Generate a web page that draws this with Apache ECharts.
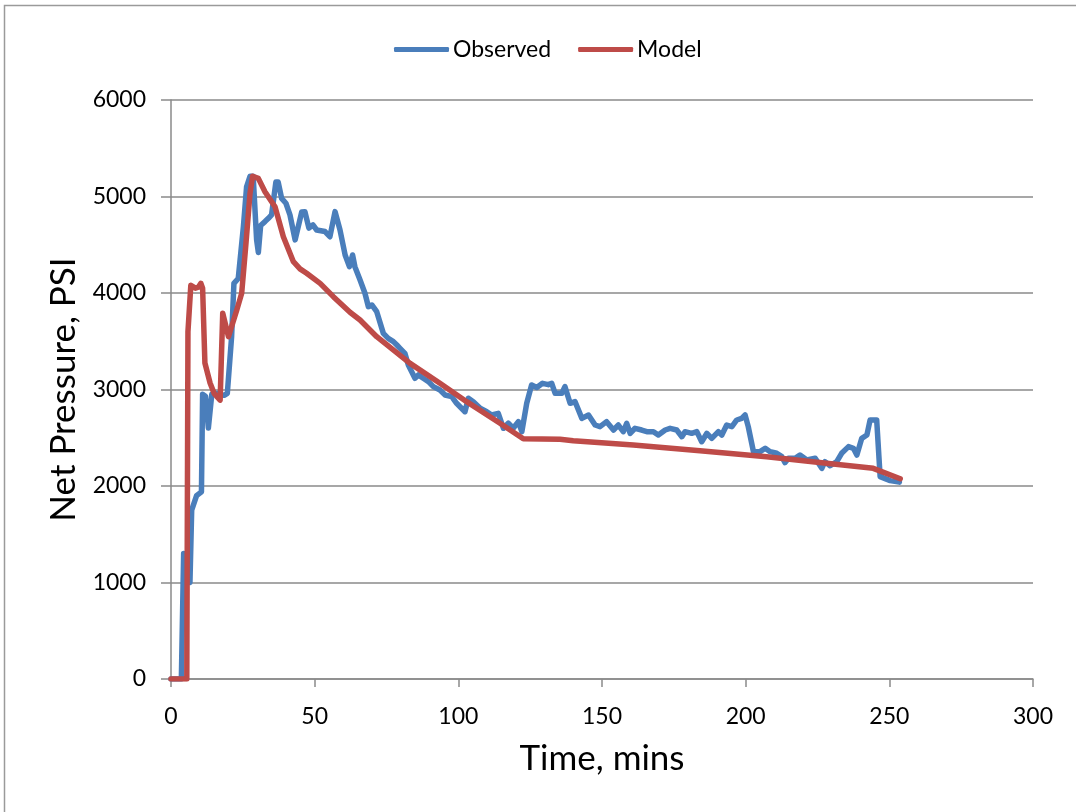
<!DOCTYPE html>
<html>
<head>
<meta charset="utf-8">
<title>Net Pressure vs Time</title>
<script src="https://cdn.jsdelivr.net/npm/echarts@6/dist/echarts.min.js"></script>
<style>
  html, body { margin: 0; padding: 0; background: #fff; }
  #chart { width: 1076px; height: 812px; }
</style>
</head>
<body>
<div id="chart"></div>
<script>
// Observed net pressure (time in minutes, pressure in psi)
const observedTime = [0, 3.6, 4.4, 6.6, 7.2, 8.9, 10.6, 11.0, 12.0, 13.0, 14.2, 16.0, 18.5, 19.6, 21.1, 21.9, 23.4, 25.2, 26.3, 27.5, 28.6, 29.8, 30.4, 31.2, 32.7, 33.9, 35.0, 36.5, 37.3, 38.5, 40.0, 41.4, 43.2, 45.5, 46.6, 48.0, 49.4, 50.7, 53.6, 55.3, 57.1, 58.8, 60.6, 62.1, 63.2, 64.0, 65.8, 67.5, 68.7, 69.9, 71.6, 73.9, 75.6, 77.4, 78.6, 79.7, 81.4, 82.6, 84.9, 86.1, 87.8, 89.6, 91.3, 93.6, 95.4, 97.7, 99.4, 102.3, 103.5, 105.2, 107.6, 109.9, 111.6, 113.9, 115.7, 117.4, 119.1, 120.9, 122.1, 123.8, 125.5, 127.3, 129.3, 131.3, 132.5, 133.7, 136.0, 137.1, 138.9, 140.6, 143.0, 145.3, 147.6, 149.3, 151.6, 154.0, 155.7, 157.4, 158.6, 159.8, 161.5, 163.8, 165.6, 167.9, 169.6, 172.0, 173.7, 176.0, 177.8, 178.9, 181.2, 183.0, 184.7, 186.5, 188.2, 190.5, 191.7, 193.4, 195.2, 196.9, 198.6, 199.8, 200.9, 202.7, 205.0, 206.8, 208.5, 210.8, 212.6, 213.7, 214.9, 217.2, 218.9, 221.3, 224.2, 226.5, 227.6, 229.4, 231.7, 233.4, 235.8, 237.5, 238.7, 240.4, 242.2, 243.3, 245.6, 246.8, 250.3, 253.5];
const observedPsi = [0, 0, 1300, 1000, 1750, 1900, 1940, 2950, 2930, 2600, 2950, 2960, 2940, 2960, 3550, 4100, 4150, 4690, 5100, 5210, 5210, 4550, 4420, 4700, 4740, 4774, 4810, 5150, 5150, 4980, 4930, 4810, 4550, 4840, 4843, 4672, 4705, 4653, 4637, 4583, 4843, 4655, 4394, 4273, 4394, 4273, 4135, 3997, 3858, 3876, 3806, 3582, 3530, 3496, 3461, 3427, 3375, 3254, 3116, 3151, 3116, 3081, 3030, 2995, 2943, 2926, 2857, 2770, 2909, 2874, 2805, 2770, 2736, 2753, 2598, 2650, 2598, 2667, 2563, 2857, 3047, 3020, 3064, 3050, 3064, 2960, 2960, 3030, 2857, 2875, 2701, 2736, 2632, 2615, 2667, 2580, 2632, 2563, 2650, 2546, 2598, 2580, 2563, 2563, 2528, 2580, 2598, 2580, 2511, 2563, 2546, 2563, 2459, 2546, 2494, 2563, 2528, 2632, 2615, 2684, 2701, 2736, 2615, 2356, 2356, 2391, 2356, 2339, 2304, 2242, 2287, 2287, 2321, 2269, 2287, 2183, 2252, 2210, 2252, 2339, 2408, 2391, 2321, 2494, 2528, 2684, 2684, 2097, 2056, 2040];

// Model net pressure
const modelTime = [0, 5.5, 5.9, 6.9, 8.5, 9.5, 10.4, 11.0, 11.8, 13.6, 15.0, 17.1, 18.0, 20.0, 22.9, 24.6, 26.1, 27.5, 28.4, 30.4, 32.7, 36.2, 39.1, 42.6, 44.9, 47.2, 51.9, 56.5, 62.3, 65.8, 71.6, 83.2, 93.6, 102.9, 114.5, 122.6, 135.4, 140.0, 160.9, 184.1, 207.3, 230.5, 244.4, 253.8];
const modelPsi = [0, 0, 3600, 4080, 4050, 4060, 4100, 4050, 3275, 3067, 2960, 2890, 3790, 3547, 3824, 3997, 4518, 5033, 5210, 5188, 5050, 4894, 4583, 4324, 4250, 4204, 4100, 3962, 3800, 3720, 3547, 3271, 3064, 2874, 2650, 2490, 2484, 2470, 2425, 2366, 2304, 2228, 2183, 2075];

// Axis ranges and tick spacing
const xTicks = { min: 0, max: 300, interval: 50 };
const yTicks = { min: 0, max: 6000, interval: 1000 };

const pairs = (xs, ys) => xs.map((x, i) => [x, ys[i]]);
const plain = (v) => String(v);

const FONT = 'Lato';
const GRID_COLOR = '#8a8a8a';

const chart = echarts.init(document.getElementById('chart'), null, { renderer: 'canvas' });

chart.setOption({
  backgroundColor: '#ffffff',
  animation: false,
  textStyle: { fontFamily: FONT, color: '#000' },
  graphic: [{
    type: 'rect',
    silent: true,
    shape: { x: 4.5, y: 5.5, width: 1090, height: 830 },
    style: { fill: 'none', stroke: '#9a9a9a', lineWidth: 1.5 }
  }],
  legend: {
    left: 389,
    top: 33,
    icon: 'roundRect',
    itemWidth: 55,
    itemHeight: 5,
    itemGap: 27,
    textStyle: { fontFamily: FONT, fontSize: 23, color: '#000', padding: [0, 0, 0, -1] },
    data: ['Observed', 'Model']
  },
  grid: { left: 171, top: 100, right: 43, bottom: 133, containLabel: false },
  xAxis: {
    type: 'value',
    min: xTicks.min, max: xTicks.max, interval: xTicks.interval,
    name: 'Time, mins',
    nameLocation: 'middle',
    nameGap: 62,
    nameTextStyle: { fontFamily: FONT, fontSize: 35, color: '#000' },
    axisLine: { show: true, onZero: false, lineStyle: { color: GRID_COLOR, width: 1.5 } },
    axisTick: { show: true, inside: false, length: 8, lineStyle: { color: GRID_COLOR, width: 1.5 } },
    axisLabel: { margin: 26, fontFamily: FONT, fontSize: 23, color: '#000', formatter: plain },
    splitLine: { show: false }
  },
  yAxis: {
    type: 'value',
    min: yTicks.min, max: yTicks.max, interval: yTicks.interval,
    name: 'Net Pressure, PSI',
    nameLocation: 'middle',
    nameRotate: 90,
    nameGap: 90,
    nameTextStyle: { fontFamily: FONT, fontSize: 35, color: '#000' },
    axisLine: { show: true, lineStyle: { color: GRID_COLOR, width: 1.5 } },
    axisTick: { show: true, inside: false, length: 10, lineStyle: { color: GRID_COLOR, width: 1.5 } },
    axisLabel: { margin: 25, fontFamily: FONT, fontSize: 23, color: '#000', formatter: plain },
    splitLine: { show: true, lineStyle: { color: GRID_COLOR, width: 1.5 } }
  },
  series: [
    {
      name: 'Observed',
      type: 'line',
      data: pairs(observedTime, observedPsi),
      showSymbol: false,
      symbol: 'none',
      smooth: false,
      color: '#4a7ebb',
      lineStyle: { color: '#4a7ebb', width: 5.5, cap: 'round', join: 'round' },
      z: 2
    },
    {
      name: 'Model',
      type: 'line',
      data: pairs(modelTime, modelPsi),
      showSymbol: false,
      symbol: 'none',
      smooth: false,
      color: '#be4b48',
      lineStyle: { color: '#be4b48', width: 5.5, cap: 'round', join: 'round' },
      z: 3
    }
  ]
});
</script>
</body>
</html>
